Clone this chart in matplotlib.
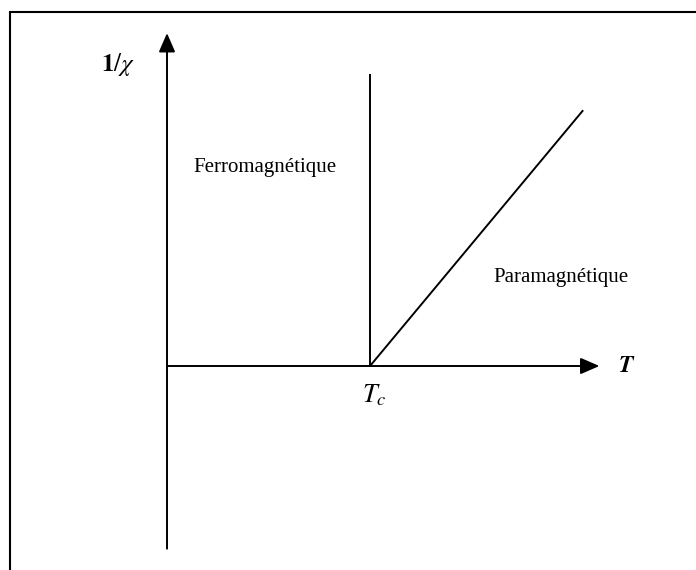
import matplotlib
matplotlib.use("Agg")
import matplotlib.pyplot as plt
from matplotlib.lines import Line2D

plt.rcParams['mathtext.fontset'] = 'stix'

# Schematic data (units: T in units of Tc)
Tc = 1.0
ferro_T = [Tc, Tc]
ferro_inv = [0.0, 1.44]
para_T = [Tc, 2.05]
para_inv = [0.0, 1.26]
x_axis = [0.0, 2.13]
y_axis = [-0.90, 1.64]

region_labels = ["Ferromagnétique", "Paramagnétique"]
region_pos = [(0.13, 0.955), (1.61, 0.415)]

W, H = 696, 570
fig = plt.figure(figsize=(W / 100, H / 100), dpi=100)
ax = fig.add_axes([0, 0, 1, 1])
ax.set_xlim(-0.8227, 2.6059)
ax.set_ylim(-1.0049, 1.803)
ax.axis('off')

lw = 1.4
# axes with arrows
arrow = dict(arrowstyle='-|>,head_length=1.15,head_width=0.5', lw=lw, color='k',
             shrinkA=0, shrinkB=0, mutation_scale=10)
ax.annotate('', xy=(x_axis[1], 0), xytext=(x_axis[0], 0), arrowprops=arrow)
ax.annotate('', xy=(0, y_axis[1]), xytext=(0, y_axis[0]), arrowprops=arrow)

ax.plot(ferro_T, ferro_inv, color='k', lw=lw, solid_capstyle='butt')
ax.plot(para_T, para_inv, color='k', lw=lw, solid_capstyle='butt')

# labels
serif = ['Liberation Serif', 'DejaVu Serif']
ax.text(region_pos[0][0], region_pos[0][1], region_labels[0], family=serif,
        fontsize=15, ha='left', va='baseline')
ax.text(region_pos[1][0], region_pos[1][1], region_labels[1], family=serif,
        fontsize=15, ha='left', va='baseline')

ax.text(-0.24, 1.455, r'$\mathbf{1}/\chi$', fontsize=18, ha='center', va='baseline')
ax.text(2.26, -0.0, 'T', family='STIXGeneral', style='italic', weight='bold',
        fontsize=17, ha='center', va='center')
ax.text(1.02, -0.08, r'$T_c$', fontsize=19, ha='center', va='top')

# page frame (top and left edges)
fig.add_artist(Line2D([10 / W, 1.0], [1 - 11.7 / H, 1 - 11.7 / H],
                      transform=fig.transFigure, color='k', lw=1.5,
                      solid_capstyle='butt'))
fig.add_artist(Line2D([10 / W, 10 / W], [0.0, 1 - 11.0 / H],
                      transform=fig.transFigure, color='k', lw=1.5,
                      solid_capstyle='butt'))

fig.savefig('out.png', dpi=100)
